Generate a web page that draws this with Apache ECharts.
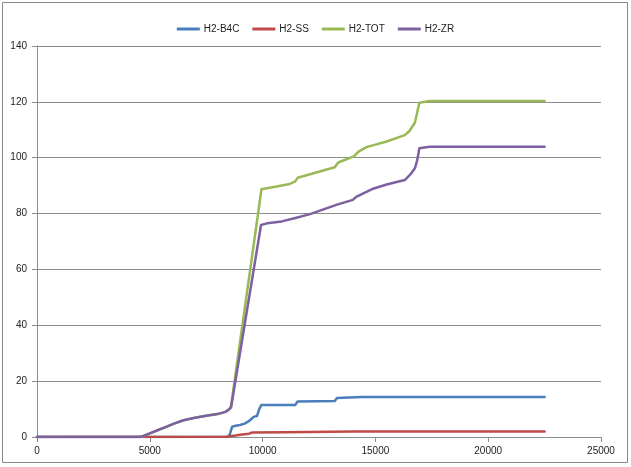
<!DOCTYPE html>
<html>
<head>
<meta charset="utf-8">
<script src="https://cdn.jsdelivr.net/npm/echarts@6/dist/echarts.min.js"></script>
<style>html,body{margin:0;padding:0;background:#fff}#c{width:631px;height:467px}</style>
</head>
<body>
<div id="c"></div>
<script>
// ---- data ----
const seriesNames = ['H2-B4C', 'H2-SS', 'H2-TOT', 'H2-ZR'];
const xTicks = [0, 5000, 10000, 15000, 20000, 25000];
const yTicks = [0, 20, 40, 60, 80, 100, 120, 140];

const b4cT = [0, 8450, 8550, 8650, 8800, 9000, 9200, 9350, 9500, 9600, 9750, 9850, 9950, 11450, 11550, 13200, 13300, 14400, 22500];
const b4cV = [0, 0, 1.0, 3.7, 4.0, 4.3, 4.8, 5.5, 6.4, 7.2, 7.5, 10.0, 11.5, 11.5, 12.7, 12.9, 14.0, 14.3, 14.3];

const ssT = [0, 8400, 8800, 9000, 9400, 9550, 11000, 14000, 22500];
const ssV = [0, 0.1, 0.5, 0.8, 1.2, 1.6, 1.7, 2.0, 2.0];

const totT = [0, 4500, 4700, 5000, 5400, 5750, 6100, 6500, 7000, 7500, 8000, 8350, 8500, 8600, 9950, 10500, 11200, 11450, 11550, 12300, 13200, 13350, 14050, 14250, 14600, 15000, 15500, 16300, 16500, 16750, 16950, 17400, 22500];
const totV = [0, 0, 0.3, 1.3, 2.6, 3.7, 4.9, 6.0, 6.9, 7.6, 8.2, 9.0, 9.8, 11.0, 88.7, 89.5, 90.6, 91.5, 92.8, 94.5, 96.6, 98.3, 100.5, 102.2, 103.8, 104.7, 105.8, 108.1, 109.5, 112.5, 119.7, 120.3, 120.3];

const zrT = [0, 4500, 4700, 5000, 5400, 5750, 6100, 6500, 7000, 7500, 8000, 8350, 8500, 8600, 9930, 10200, 10850, 11500, 12100, 12700, 13300, 14000, 14150, 14400, 14900, 15500, 16300, 16550, 16750, 16850, 16950, 17400, 22500];
const zrV = [0, 0, 0.3, 1.3, 2.6, 3.7, 4.9, 6.0, 6.9, 7.6, 8.2, 9.0, 9.8, 10.5, 75.9, 76.5, 77.2, 78.5, 79.8, 81.5, 83.2, 84.9, 86.0, 87.0, 88.9, 90.4, 92.0, 94.0, 96.2, 99.0, 103.4, 103.9, 103.9];

const colors = ['#4A7EBB', '#BE4B48', '#98B954', '#7D60A0'];

function pairs(t, v) { return t.map((x, i) => [x, v[i]]); }
const allData = [pairs(b4cT, b4cV), pairs(ssT, ssV), pairs(totT, totV), pairs(zrT, zrV)];

const chart = echarts.init(document.getElementById('c'), null, { renderer: 'canvas' });
const font = 'Liberation Sans, Arial, sans-serif';
const grid = '#8c8c8c';

chart.setOption({
  animation: false,
  color: colors,
  textStyle: { fontFamily: font },
  graphic: [{
    type: 'rect', silent: true,
    shape: { x: 2.5, y: 2.5, width: 625, height: 460 },
    style: { fill: 'none', stroke: '#8a8a8a', lineWidth: 1 }
  }],
  legend: {
    top: 19, left: 'center',
    itemWidth: 23, itemHeight: 3, itemGap: 13,
    icon: 'rect',
    textStyle: { fontSize: 10, color: '#222', fontFamily: font, padding: [0, 0, 0, -1] },
    data: seriesNames
  },
  grid: { left: 37, right: 30, top: 46, bottom: 30, containLabel: false },
  xAxis: {
    type: 'value', min: xTicks[0], max: xTicks[xTicks.length - 1], interval: 5000,
    axisLine: { show: true, lineStyle: { color: grid, width: 1 } },
    axisTick: { show: true, inside: false, length: 5, lineStyle: { color: grid } },
    axisLabel: { fontSize: 10, color: '#222', margin: 9, fontFamily: font, formatter: v => String(v) },
    splitLine: { show: false }
  },
  yAxis: {
    type: 'value', min: yTicks[0], max: yTicks[yTicks.length - 1], interval: 20,
    axisLine: { show: true, lineStyle: { color: grid, width: 1 } },
    axisTick: { show: true, inside: false, length: 5, lineStyle: { color: grid } },
    axisLabel: { fontSize: 10, color: '#222', margin: 10, fontFamily: font, formatter: v => String(v) },
    splitLine: { show: true, lineStyle: { color: grid, width: 1 } }
  },
  series: seriesNames.map((name, i) => ({
    name, type: 'line', data: allData[i],
    showSymbol: false, symbol: 'none',
    lineStyle: { width: 2.5, color: colors[i], join: 'round', cap: 'round' },
    itemStyle: { color: colors[i] },
    z: 2 + i
  }))
});
</script>
</body>
</html>
